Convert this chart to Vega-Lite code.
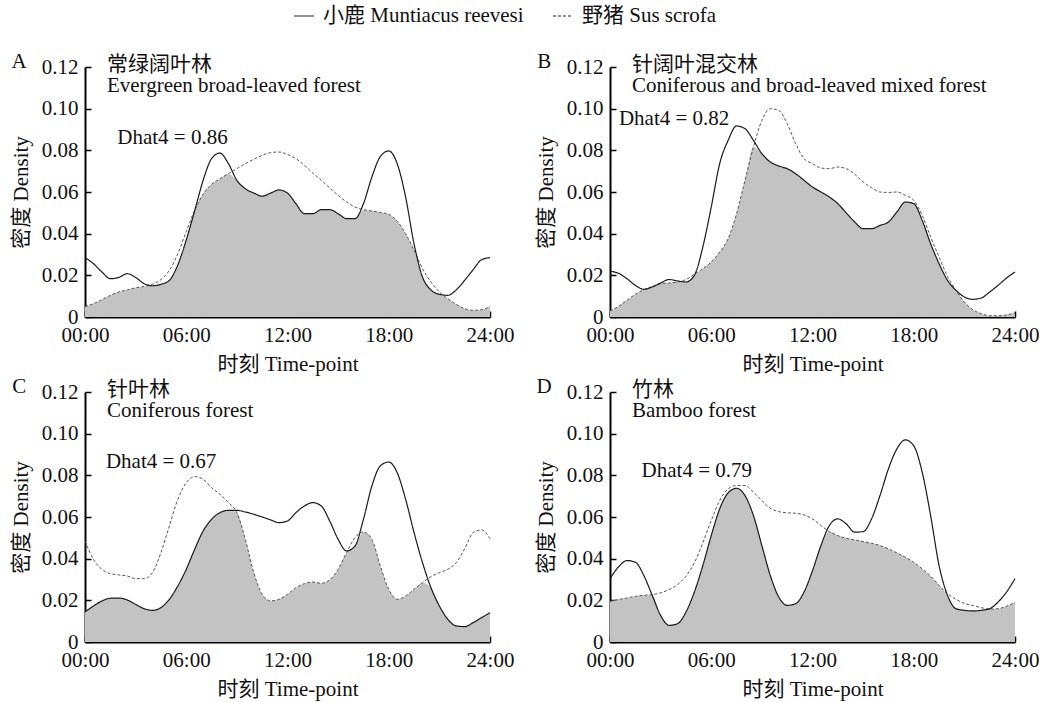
{
  "$schema": "https://vega.github.io/schema/vega-lite/v6.json",
  "autosize": {"type": "none"},
  "padding": {"left": 85, "top": 67, "right": 958, "bottom": 635},
  "background": "white",
  "data": {
    "values": [
      {"p":"A","letter":"A","zh":"常绿阔叶林","en":"Evergreen broad-leaved forest","dh":"Dhat4 = 0.86","hx":1.91,"hy":0.086},
      {"p":"B","letter":"B","zh":"针阔叶混交林","en":"Coniferous and broad-leaved mixed forest","dh":"Dhat4 = 0.82","hx":0.53,"hy":0.095},
      {"p":"C","letter":"C","zh":"针叶林","en":"Coniferous forest","dh":"Dhat4 = 0.67","hx":1.24,"hy":0.0862},
      {"p":"D","letter":"D","zh":"竹林","en":"Bamboo forest","dh":"Dhat4 = 0.79","hx":1.87,"hy":0.0819},
      {"p":"A","h":0,"m":0.0285,"b":0.005},{"p":"A","h":0.5,"m":0.0256,"b":0.0064},{"p":"A","h":1,"m":0.0216,"b":0.0083},{"p":"A","h":1.5,"m":0.0184,"b":0.0104},{"p":"A","h":2,"m":0.019,"b":0.012},{"p":"A","h":2.5,"m":0.0208,"b":0.013},{"p":"A","h":3,"m":0.019,"b":0.014},{"p":"A","h":3.5,"m":0.016,"b":0.0147},{"p":"A","h":4,"m":0.015,"b":0.0157},{"p":"A","h":4.5,"m":0.0157,"b":0.018},{"p":"A","h":5,"m":0.0176,"b":0.0224},{"p":"A","h":5.5,"m":0.025,"b":0.0304},{"p":"A","h":6,"m":0.037,"b":0.041},{"p":"A","h":6.5,"m":0.051,"b":0.0512},{"p":"A","h":7,"m":0.0656,"b":0.059},{"p":"A","h":7.5,"m":0.076,"b":0.0637},{"p":"A","h":8,"m":0.0787,"b":0.0664},{"p":"A","h":8.5,"m":0.0736,"b":0.0688},{"p":"A","h":9,"m":0.0656,"b":0.0712},{"p":"A","h":9.5,"m":0.0616,"b":0.0736},{"p":"A","h":10,"m":0.0595,"b":0.0757},{"p":"A","h":10.5,"m":0.058,"b":0.0776},{"p":"A","h":11,"m":0.0595,"b":0.0789},{"p":"A","h":11.5,"m":0.061,"b":0.0792},{"p":"A","h":12,"m":0.0595,"b":0.078},{"p":"A","h":12.5,"m":0.0544,"b":0.076},{"p":"A","h":13,"m":0.0496,"b":0.0728},{"p":"A","h":13.5,"m":0.0496,"b":0.0691},{"p":"A","h":14,"m":0.0515,"b":0.0656},{"p":"A","h":14.5,"m":0.0515,"b":0.062},{"p":"A","h":15,"m":0.0496,"b":0.0584},{"p":"A","h":15.5,"m":0.0472,"b":0.0552},{"p":"A","h":16,"m":0.0472,"b":0.0528},{"p":"A","h":16.5,"m":0.0544,"b":0.0515},{"p":"A","h":17,"m":0.0672,"b":0.0509},{"p":"A","h":17.5,"m":0.077,"b":0.0502},{"p":"A","h":18,"m":0.0797,"b":0.0493},{"p":"A","h":18.5,"m":0.0736,"b":0.046},{"p":"A","h":19,"m":0.0576,"b":0.04},{"p":"A","h":19.5,"m":0.035,"b":0.032},{"p":"A","h":20,"m":0.0192,"b":0.0232},{"p":"A","h":20.5,"m":0.013,"b":0.0168},{"p":"A","h":21,"m":0.0109,"b":0.012},{"p":"A","h":21.5,"m":0.0104,"b":0.0088},{"p":"A","h":22,"m":0.013,"b":0.0061},{"p":"A","h":22.5,"m":0.0176,"b":0.004},{"p":"A","h":23,"m":0.0227,"b":0.0032},{"p":"A","h":23.5,"m":0.0275,"b":0.0035},{"p":"A","h":24,"m":0.0285,"b":0.0051},
      {"p":"B","h":0,"m":0.022,"b":0.0029},{"p":"B","h":0.5,"m":0.021,"b":0.0051},{"p":"B","h":1,"m":0.0184,"b":0.008},{"p":"B","h":1.5,"m":0.0152,"b":0.0109},{"p":"B","h":2,"m":0.0133,"b":0.0131},{"p":"B","h":2.5,"m":0.0144,"b":0.0147},{"p":"B","h":3,"m":0.0163,"b":0.016},{"p":"B","h":3.5,"m":0.018,"b":0.0163},{"p":"B","h":4,"m":0.0173,"b":0.0168},{"p":"B","h":4.5,"m":0.0168,"b":0.018},{"p":"B","h":5,"m":0.02,"b":0.0205},{"p":"B","h":5.5,"m":0.0336,"b":0.0232},{"p":"B","h":6,"m":0.0528,"b":0.0264},{"p":"B","h":6.5,"m":0.0736,"b":0.0312},{"p":"B","h":7,"m":0.0848,"b":0.0376},{"p":"B","h":7.5,"m":0.0917,"b":0.0496},{"p":"B","h":8,"m":0.0904,"b":0.0656},{"p":"B","h":8.5,"m":0.0848,"b":0.0816},{"p":"B","h":9,"m":0.0784,"b":0.0944},{"p":"B","h":9.5,"m":0.0744,"b":0.1},{"p":"B","h":10,"m":0.0725,"b":0.0992},{"p":"B","h":10.5,"m":0.0712,"b":0.0928},{"p":"B","h":11,"m":0.0688,"b":0.0832},{"p":"B","h":11.5,"m":0.0656,"b":0.076},{"p":"B","h":12,"m":0.0624,"b":0.0736},{"p":"B","h":12.5,"m":0.06,"b":0.0715},{"p":"B","h":13,"m":0.0576,"b":0.0712},{"p":"B","h":13.5,"m":0.0544,"b":0.072},{"p":"B","h":14,"m":0.05,"b":0.0712},{"p":"B","h":14.5,"m":0.0456,"b":0.0685},{"p":"B","h":15,"m":0.0424,"b":0.0648},{"p":"B","h":15.5,"m":0.0424,"b":0.0621},{"p":"B","h":16,"m":0.044,"b":0.06},{"p":"B","h":16.5,"m":0.0456,"b":0.0598},{"p":"B","h":17,"m":0.0504,"b":0.06},{"p":"B","h":17.5,"m":0.0552,"b":0.0584},{"p":"B","h":18,"m":0.0544,"b":0.056},{"p":"B","h":18.5,"m":0.0464,"b":0.0488},{"p":"B","h":19,"m":0.0352,"b":0.0384},{"p":"B","h":19.5,"m":0.0256,"b":0.0288},{"p":"B","h":20,"m":0.0176,"b":0.0195},{"p":"B","h":20.5,"m":0.0128,"b":0.0128},{"p":"B","h":21,"m":0.0096,"b":0.0072},{"p":"B","h":21.5,"m":0.0085,"b":0.0035},{"p":"B","h":22,"m":0.0091,"b":0.0016},{"p":"B","h":22.5,"m":0.012,"b":0.0006},{"p":"B","h":23,"m":0.0152,"b":0.0006},{"p":"B","h":23.5,"m":0.0187,"b":0.001},{"p":"B","h":24,"m":0.0216,"b":0.002},
      {"p":"C","h":0,"m":0.0144,"b":0.0485},{"p":"C","h":0.5,"m":0.0173,"b":0.0397},{"p":"C","h":1,"m":0.0197,"b":0.0349},{"p":"C","h":1.5,"m":0.021,"b":0.0328},{"p":"C","h":2,"m":0.0211,"b":0.0322},{"p":"C","h":2.5,"m":0.0202,"b":0.0317},{"p":"C","h":3,"m":0.0181,"b":0.0304},{"p":"C","h":3.5,"m":0.016,"b":0.0304},{"p":"C","h":4,"m":0.0152,"b":0.0333},{"p":"C","h":4.5,"m":0.0165,"b":0.0429},{"p":"C","h":5,"m":0.0205,"b":0.0557},{"p":"C","h":5.5,"m":0.0269,"b":0.0685},{"p":"C","h":6,"m":0.0349,"b":0.0765},{"p":"C","h":6.5,"m":0.0445,"b":0.0794},{"p":"C","h":7,"m":0.0533,"b":0.0781},{"p":"C","h":7.5,"m":0.0589,"b":0.0741},{"p":"C","h":8,"m":0.0621,"b":0.0709},{"p":"C","h":8.5,"m":0.0632,"b":0.0669},{"p":"C","h":9,"m":0.0632,"b":0.0621},{"p":"C","h":9.5,"m":0.0624,"b":0.0493},{"p":"C","h":10,"m":0.0613,"b":0.0333},{"p":"C","h":10.5,"m":0.06,"b":0.0229},{"p":"C","h":11,"m":0.0586,"b":0.0197},{"p":"C","h":11.5,"m":0.0573,"b":0.0205},{"p":"C","h":12,"m":0.0581,"b":0.0229},{"p":"C","h":12.5,"m":0.0621,"b":0.0261},{"p":"C","h":13,"m":0.0653,"b":0.028},{"p":"C","h":13.5,"m":0.0669,"b":0.0288},{"p":"C","h":14,"m":0.0653,"b":0.0282},{"p":"C","h":14.5,"m":0.0581,"b":0.0298},{"p":"C","h":15,"m":0.0493,"b":0.0349},{"p":"C","h":15.5,"m":0.0437,"b":0.0429},{"p":"C","h":16,"m":0.0461,"b":0.0501},{"p":"C","h":16.5,"m":0.0589,"b":0.0528},{"p":"C","h":17,"m":0.0749,"b":0.0493},{"p":"C","h":17.5,"m":0.0845,"b":0.0365},{"p":"C","h":18,"m":0.0864,"b":0.0253},{"p":"C","h":18.5,"m":0.0813,"b":0.0205},{"p":"C","h":19,"m":0.0685,"b":0.0221},{"p":"C","h":19.5,"m":0.0525,"b":0.0253},{"p":"C","h":20,"m":0.0381,"b":0.0285},{"p":"C","h":20.5,"m":0.0261,"b":0.0314},{"p":"C","h":21,"m":0.0173,"b":0.0333},{"p":"C","h":21.5,"m":0.0109,"b":0.0349},{"p":"C","h":22,"m":0.0077,"b":0.0381},{"p":"C","h":22.5,"m":0.0074,"b":0.0448},{"p":"C","h":23,"m":0.0093,"b":0.0525},{"p":"C","h":23.5,"m":0.0117,"b":0.0538},{"p":"C","h":24,"m":0.0141,"b":0.0496},
      {"p":"D","h":0,"m":0.0304,"b":0.0195},{"p":"D","h":0.5,"m":0.036,"b":0.0204},{"p":"D","h":1,"m":0.0391,"b":0.0211},{"p":"D","h":1.5,"m":0.0383,"b":0.0219},{"p":"D","h":2,"m":0.032,"b":0.0224},{"p":"D","h":2.5,"m":0.0224,"b":0.0227},{"p":"D","h":3,"m":0.0128,"b":0.0236},{"p":"D","h":3.5,"m":0.008,"b":0.0252},{"p":"D","h":4,"m":0.0088,"b":0.0275},{"p":"D","h":4.5,"m":0.0144,"b":0.0316},{"p":"D","h":5,"m":0.024,"b":0.038},{"p":"D","h":5.5,"m":0.0367,"b":0.0476},{"p":"D","h":6,"m":0.0511,"b":0.0583},{"p":"D","h":6.5,"m":0.0639,"b":0.0679},{"p":"D","h":7,"m":0.0716,"b":0.0735},{"p":"D","h":7.5,"m":0.0738,"b":0.0751},{"p":"D","h":8,"m":0.0703,"b":0.0751},{"p":"D","h":8.5,"m":0.0607,"b":0.0719},{"p":"D","h":9,"m":0.0463,"b":0.0679},{"p":"D","h":9.5,"m":0.0319,"b":0.0642},{"p":"D","h":10,"m":0.0216,"b":0.0626},{"p":"D","h":10.5,"m":0.0176,"b":0.062},{"p":"D","h":11,"m":0.0184,"b":0.0618},{"p":"D","h":11.5,"m":0.024,"b":0.061},{"p":"D","h":12,"m":0.0343,"b":0.0591},{"p":"D","h":12.5,"m":0.0463,"b":0.0559},{"p":"D","h":13,"m":0.0559,"b":0.053},{"p":"D","h":13.5,"m":0.0591,"b":0.0511},{"p":"D","h":14,"m":0.0567,"b":0.0498},{"p":"D","h":14.5,"m":0.0527,"b":0.049},{"p":"D","h":15,"m":0.053,"b":0.0482},{"p":"D","h":15.5,"m":0.0591,"b":0.0474},{"p":"D","h":16,"m":0.0703,"b":0.0463},{"p":"D","h":16.5,"m":0.0831,"b":0.0447},{"p":"D","h":17,"m":0.0927,"b":0.0428},{"p":"D","h":17.5,"m":0.097,"b":0.0407},{"p":"D","h":18,"m":0.0942,"b":0.0383},{"p":"D","h":18.5,"m":0.0815,"b":0.0351},{"p":"D","h":19,"m":0.0607,"b":0.0316},{"p":"D","h":19.5,"m":0.0367,"b":0.0272},{"p":"D","h":20,"m":0.0224,"b":0.0232},{"p":"D","h":20.5,"m":0.016,"b":0.0205},{"p":"D","h":21,"m":0.0152,"b":0.0185},{"p":"D","h":21.5,"m":0.0149,"b":0.0175},{"p":"D","h":22,"m":0.0152,"b":0.0165},{"p":"D","h":22.5,"m":0.016,"b":0.0158},{"p":"D","h":23,"m":0.0192,"b":0.016},{"p":"D","h":23.5,"m":0.024,"b":0.0172},{"p":"D","h":24,"m":0.0304,"b":0.019}
    ]
  },
  "facet": {"field": "p", "type": "nominal", "title": null, "header": {"labels": false, "labelExpr": "''", "title": null}},
  "columns": 2,
  "spacing": {"row": 75, "column": 120},
  "bounds": "flush",
  "resolve": {"axis": {"x": "independent", "y": "independent"}},
  "spec": {
    "width": 405,
    "height": 250,
    "layer": [
      {
        "transform": [
          {"filter": "isValid(datum.h)"},
          {"fold": ["m", "b"], "as": ["sp", "d"]},
          {"aggregate": [{"op": "min", "field": "d", "as": "ov"}], "groupby": ["p", "h"]}
        ],
        "mark": {"type": "area", "interpolate": "monotone", "color": "#c3c3c3"},
        "encoding": {
          "x": {"field": "h", "type": "quantitative", "title": "时刻 Time-point",
                "scale": {"domain": [0, 24], "nice": false, "zero": false},
                "axis": {"values": [0, 6, 12, 18, 24], "labelExpr": "(datum.value < 10 ? '0' : '') + datum.value + ':00'", "labelFlush": false, "labelOverlap": false}},
          "y": {"field": "ov", "type": "quantitative", "title": "密度 Density",
                "scale": {"domain": [0, 0.12], "nice": false},
                "axis": {"values": [0, 0.02, 0.04, 0.06, 0.08, 0.1, 0.12], "labelExpr": "datum.value == 0 ? '0' : format(datum.value, '.2f')", "labelFlush": false, "labelOverlap": false}}
        }
      },
      {
        "transform": [
          {"filter": "isValid(datum.h)"},
          {"fold": ["m", "b"], "as": ["sp", "d"]},
          {"filter": "datum.sp == 'b'"}
        ],
        "mark": {"type": "line", "interpolate": "monotone", "stroke": "#555555", "strokeWidth": 1},
        "encoding": {
          "x": {"field": "h", "type": "quantitative", "title": "时刻 Time-point"},
          "y": {"field": "d", "type": "quantitative", "title": "密度 Density"},
          "strokeDash": {"field": "sp", "type": "nominal", "scale": {"domain": ["m", "b"], "range": [[1, 0], [3, 2]]},
                         "legend": {"labelExpr": "datum.value == 'm' ? '小鹿 Muntiacus reevesi' : '野猪 Sus scrofa'"}}
        }
      },
      {
        "transform": [
          {"filter": "isValid(datum.h)"},
          {"fold": ["m", "b"], "as": ["sp", "d"]},
          {"filter": "datum.sp == 'm'"}
        ],
        "mark": {"type": "line", "interpolate": "monotone", "stroke": "#1a1a1a", "strokeWidth": 1.2},
        "encoding": {
          "x": {"field": "h", "type": "quantitative", "title": "时刻 Time-point"},
          "y": {"field": "d", "type": "quantitative", "title": "密度 Density"},
          "strokeDash": {"field": "sp", "type": "nominal", "scale": {"domain": ["m", "b"], "range": [[1, 0], [3, 2]]}}
        }
      },
      {
        "transform": [{"filter": "isValid(datum.zh)"}],
        "mark": {"type": "text", "align": "center", "baseline": "middle", "font": "'Liberation Serif', 'Noto Sans CJK SC', serif", "fontSize": 21, "color": "#111111"},
        "encoding": {
          "x": {"datum": -3.9},
          "y": {"datum": 0.1225},
          "text": {"field": "letter"}
        }
      },
      {
        "transform": [{"filter": "isValid(datum.zh)"}],
        "mark": {"type": "text", "align": "left", "baseline": "middle", "font": "'Liberation Serif', 'Noto Sans CJK SC', serif", "fontSize": 21, "color": "#111111"},
        "encoding": {
          "x": {"datum": 1.3},
          "y": {"datum": 0.121},
          "text": {"field": "zh"}
        }
      },
      {
        "transform": [{"filter": "isValid(datum.zh)"}],
        "mark": {"type": "text", "align": "left", "baseline": "middle", "font": "'Liberation Serif', 'Noto Sans CJK SC', serif", "fontSize": 21, "color": "#111111"},
        "encoding": {
          "x": {"datum": 1.3},
          "y": {"datum": 0.111},
          "text": {"field": "en"}
        }
      },
      {
        "transform": [{"filter": "isValid(datum.zh)"}],
        "mark": {"type": "text", "align": "left", "baseline": "middle", "font": "'Liberation Serif', 'Noto Sans CJK SC', serif", "fontSize": 21, "color": "#111111"},
        "encoding": {
          "x": {"field": "hx", "type": "quantitative", "title": "时刻 Time-point"},
          "y": {"field": "hy", "type": "quantitative", "title": "密度 Density"},
          "text": {"field": "dh"}
        }
      }
    ]
  },
  "config": {
    "view": {"stroke": null},
    "font": "'Liberation Serif', 'Noto Sans CJK SC', serif",
    "header": {"labels": false, "title": null, "labelExpr": "''"},
    "headerFacet": {"labels": false, "title": null, "labelExpr": "''"},
    "axis": {
      "grid": false,
      "domainColor": "#000000",
      "domainWidth": 2,
      "tickColor": "#000000",
      "tickWidth": 1.5,
      "tickSize": -6,
      "labelFont": "'Liberation Serif', 'Noto Sans CJK SC', serif",
      "labelFontSize": 21,
      "labelColor": "#111111",
      "titleFont": "'Liberation Serif', 'Noto Sans CJK SC', serif",
      "titleFontSize": 21,
      "titleFontWeight": "normal",
      "titleColor": "#111111"
    },
    "axisX": {"labelPadding": 13, "titlePadding": 8},
    "axisY": {"labelPadding": 13, "titlePadding": 10},
    "legend": {
      "orient": "none",
      "legendX": 208,
      "legendY": -62,
      "direction": "horizontal",
      "title": null,
      "symbolType": "stroke",
      "symbolSize": 400,
      "symbolStrokeWidth": 1.2,
      "symbolStrokeColor": "#222222",
      "labelFont": "'Liberation Serif', 'Noto Sans CJK SC', serif",
      "labelFontSize": 21,
      "labelLimit": 0,
      "labelColor": "#111111",
      "labelOffset": 8,
      "columnPadding": 26
    }
  }
}
